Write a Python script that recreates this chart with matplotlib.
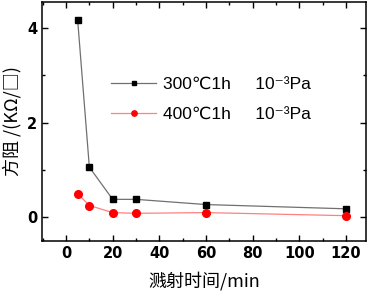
import numpy as np
import matplotlib.pyplot as plt
from matplotlib.ticker import MultipleLocator

# sputtering time (min) and sheet resistance (kOhm/sq)
t = [5, 10, 20, 30, 60, 120]
r300 = [4.16, 1.06, 0.38, 0.38, 0.27, 0.18]
r400 = [0.50, 0.25, 0.10, 0.085, 0.10, 0.035]
labels = ['300\u21031h     10\u207b\u00b3Pa', '400\u21031h     10\u207b\u00b3Pa']
xticks = [0, 20, 40, 60, 80, 100, 120]
yticks = [0, 2, 4]

plt.rcParams['font.family'] = ['Liberation Sans', 'DejaVu Sans', 'Noto Sans CJK SC']

fig = plt.figure(figsize=(3.71, 2.91), dpi=100)
ax = fig.add_axes([42/371, 50/291, 324/371, 239/291])

ax.plot(t, r300, color='#707070', lw=0.9, marker='s', ms=5, mfc='black', mec='black', label=labels[0])
ax.plot(t, r400, color='#ff8080', lw=0.9, marker='o', ms=5.5, mfc='red', mec='red', label=labels[1])

ax.set_xlim(-10.3, 128.6)
ax.set_ylim(-0.5, 4.55)
tickfont = dict(family='DejaVu Sans', weight='bold', size=10.5)
ax.set_xticks(xticks)
ax.set_xticklabels([str(v) for v in xticks], fontdict=tickfont)
ax.set_yticks(yticks)
ax.set_yticklabels([str(v) for v in yticks], fontdict=tickfont)
ax.xaxis.set_minor_locator(MultipleLocator(10))
ax.yaxis.set_minor_locator(MultipleLocator(1))
ax.tick_params(which='both', direction='in', top=True, right=True, labeltop=False, labelright=False)
ax.tick_params(which='major', length=4, width=1)
ax.tick_params(which='minor', length=2.5, width=1)
for s in ax.spines.values():
    s.set_linewidth(1.1)

ax.set_xlabel('溅射时间/min', fontsize=13,
              family=['Noto Sans CJK SC', 'DejaVu Serif'], labelpad=8)
ax.set_ylabel('方阻 /(KΩ/□)', fontsize=13,
              family=['Noto Sans CJK SC', 'DejaVu Serif'], labelpad=4)

leg = ax.legend(loc='upper left', bbox_to_anchor=(0.165, 0.75), frameon=False,
                prop={'size': 12.5, 'family': ['Liberation Sans', 'DejaVu Sans', 'Noto Sans CJK SC']},
                handlelength=2.6, handletextpad=0.4, labelspacing=0.85, markerscale=0.7)

fig.savefig('out.png', dpi=100)
